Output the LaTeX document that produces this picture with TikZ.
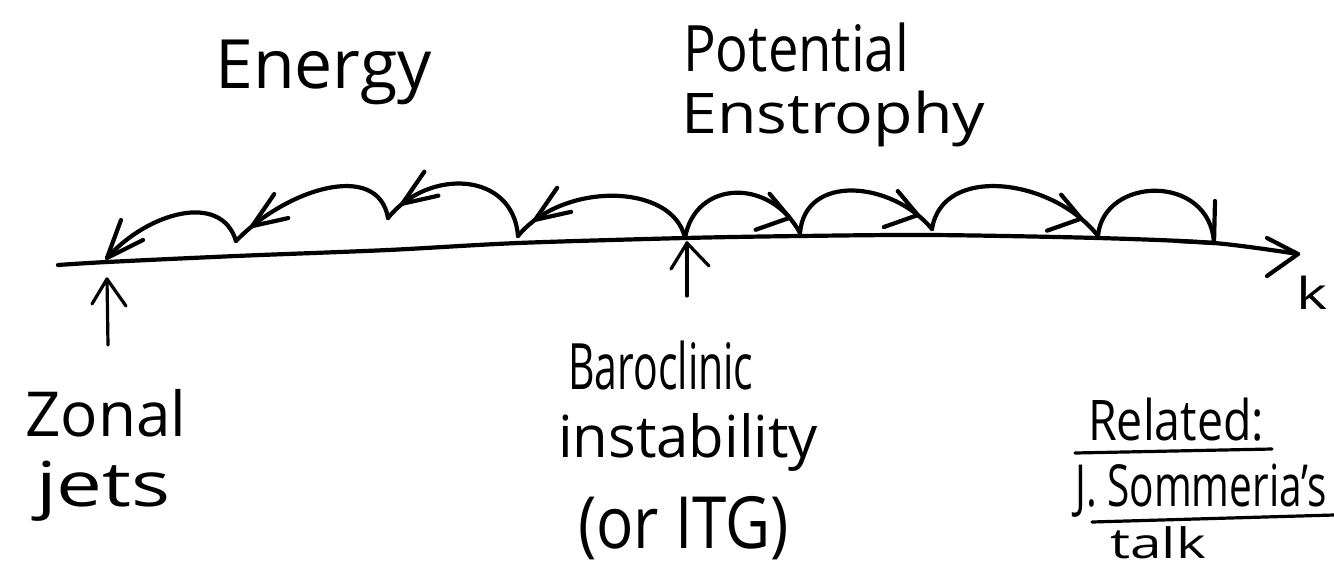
\documentclass[tikz,border=0pt]{standalone}
\usepackage{fontspec}
\setmainfont{Open Sans}
\usepackage{graphicx}
\usetikzlibrary{decorations.markings}

% text helper: horizontal squeeze, font size, text
\newcommand{\handtext}[3]{\scalebox{#1}[1]{\fontsize{#2}{#2}\selectfont #3}}

\tikzset{
  pen/.style={line width=4.2pt, line cap=round, line join=round},
  thinpen/.style={line width=3.2pt, line cap=round, line join=round},
  % cascade hop: remembers the point where its arrow head sits
  hop/.style 2 args={pen, postaction={decorate},
    decoration={markings, mark=at position #1 with {\coordinate (#2);}}},
  label/.style={anchor=base west, inner sep=0pt},
}

\begin{document}
\begin{tikzpicture}[x=1pt, y=-1pt]
\useasboundingbox (0,0) rectangle (1334,566);
\clip (0,0) rectangle (1334,566);

% points on the wavenumber axis
\coordinate (b)  at (685,238);
\coordinate (e1) at (518,236);
\coordinate (e2) at (388,218);
\coordinate (e3) at (236,241);
\coordinate (e4) at (107,258);
\coordinate (s1) at (800,233);
\coordinate (s2) at (932,229);
\coordinate (s3) at (1098,236);
\coordinate (s4) at (1214,243);
\coordinate (kend) at (1298,254);

% wavenumber axis
\draw[pen]
  plot[smooth] coordinates {(58,265) (107,262) (236,256) (388,250) (518,243)
    (685,238) (800,236) (932,235) (1098,238) (1214,243) (1298,254)};
\draw[pen] (kend) ++(-31,-16) -- (kend) -- ++(-31,22);
\node[inner sep=0pt] (k) at (1312,293) {\handtext{1.35}{44}{k}};

% inverse energy cascade (towards small k)
\draw[hop={0.88}{te1}] (b)  .. controls +(-12,-55) and +(45,-55) .. (e1);
\draw[hop={0.88}{te2}] (e1) .. controls +(-5,-65) and +(40,-50) .. (e2);
\draw[hop={0.88}{te3}] (e2) .. controls +(-10,-58) and +(50,-52) .. (e3);
\draw[pen]             (e3) .. controls +(-15,-50) and +(40,-45) .. (e4);
\foreach \t in {te1,te2,te3}
  \draw[pen] (\t) ++(22,-32) -- (\t) -- ++(36,-8);
\draw[pen] (e4) ++(14,-38) -- (e4) -- ++(36,-18);

% forward enstrophy cascade (towards large k)
\draw[hop={0.88}{ts1}] (b)  .. controls +(10,-58) and +(-30,-56) .. (s1);
\draw[hop={0.88}{ts2}] (s1) .. controls +(5,-60) and +(-40,-48) .. (s2);
\draw[hop={0.88}{ts3}] (s2) .. controls +(10,-65) and +(-45,-58) .. (s3);
\draw[pen]             (s3) .. controls +(5,-60) and +(-4,-70) .. (s4);
\foreach \t in {ts1,ts2,ts3}
  \draw[pen] (\t) ++(-20,-24) -- (\t) -- ++(-34,12);
\draw[pen] (s4) ++(1,-42) -- (s4) -- ++(-36,-2);

% markers under the axis
\coordinate (zt) at (108,345);
\coordinate (zh) at (107,279);
\coordinate (bt) at (687,296);
\coordinate (bh) at (687,243);
\draw[thinpen] (zt) -- (zh);
\draw[thinpen] (zh) ++(-15,25) -- (zh) -- ++(19,27);
\draw[thinpen] (bt) -- (bh);
\draw[thinpen] (bh) ++(-16,26) -- (bh) -- ++(22,23);

% labels
\node[label] (energy) at (215,88) {\handtext{1.0}{68}{Energy}};
\node[label] (potential) at (683,71) {\handtext{0.85}{64}{Potential}};
\node[label] (enstrophy) at (681,133) {\handtext{1.15}{56}{Enstrophy}};

\node[label] (zonal) at (25,436) {\handtext{1.0}{62}{Zonal}};
\node[label] (jets) at (36,506) {\handtext{1.32}{62}{jets}};

\node[label] (baro) at (568,389) {\handtext{0.64}{64}{Baroclinic}};
\node[label] (instab) at (558,457) {\handtext{1.0}{58}{instability}};
\node[label] (itg) at (578,548) {\handtext{0.86}{72}{(or ITG)}};

\node[label] (related) at (1088,440) {\handtext{0.83}{56}{Related:}};
\node[label] (sommeria) at (1075,506) {\handtext{0.70}{58}{J. Sommeria's}};
\node[label] (talk) at (1110,558) {\handtext{1.35}{42}{talk}};

\coordinate (r1) at (1075,453);
\coordinate (r2) at (1272,449);
\coordinate (j1) at (1092,522);
\coordinate (j2) at (1334,515);
\draw[thinpen] (r1) -- (r2);
\draw[thinpen] (j1) -- (j2);
\end{tikzpicture}
\end{document}
